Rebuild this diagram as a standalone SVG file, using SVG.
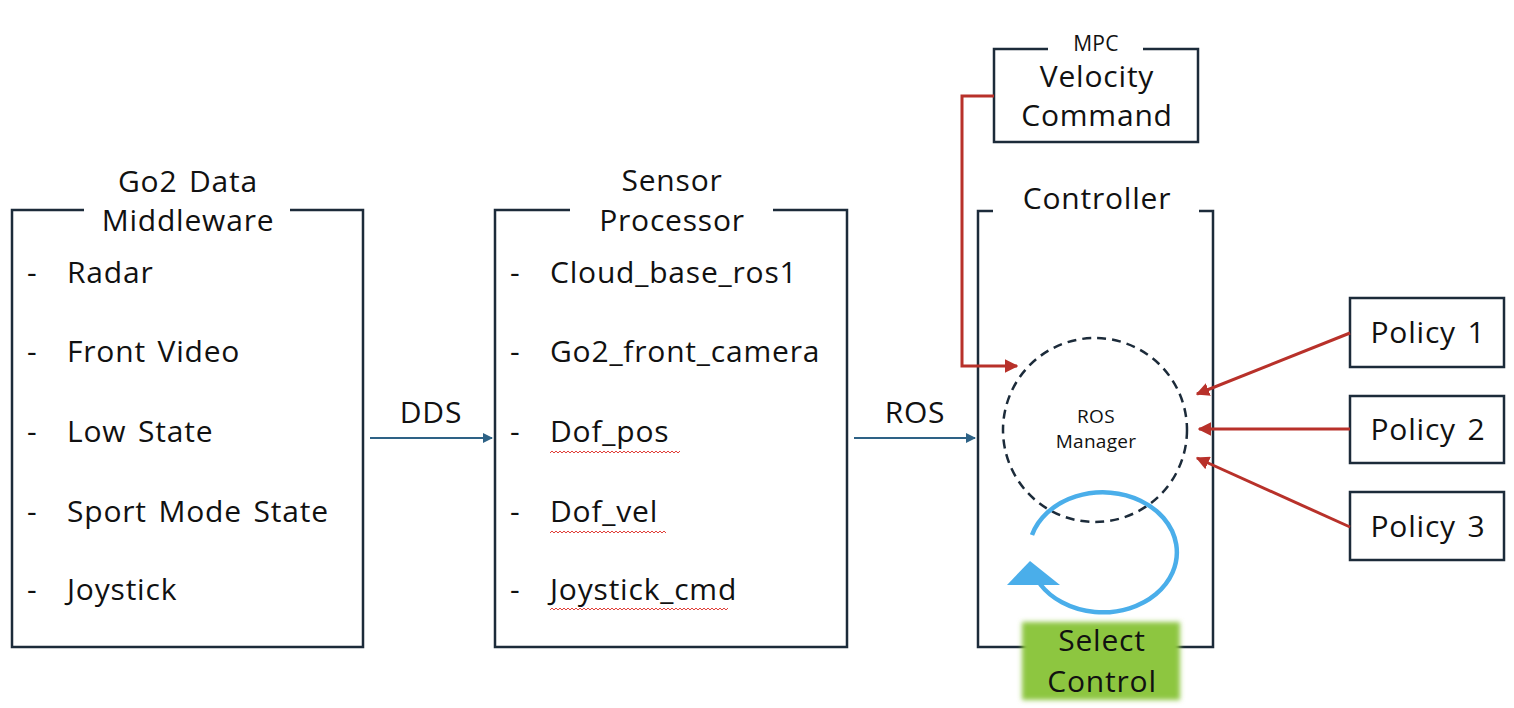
<svg xmlns="http://www.w3.org/2000/svg" width="1514" height="708" viewBox="0 0 1514 708">
<defs>
<style>
text{font-family:"Open Sans","Noto Sans","DejaVu Sans",sans-serif;fill:#111;}
.t{font-size:30px;letter-spacing:0.8px;word-spacing:3px;}
.ti{font-size:30px;letter-spacing:0.8px;word-spacing:3px;text-anchor:middle;}
.sm{font-size:19px;letter-spacing:0.3px;text-anchor:middle;}
.frame{fill:none;stroke:#1c2b3a;stroke-width:2.5;}
.box{fill:#fff;stroke:#1c2b3a;stroke-width:2.5;}
.blue{stroke:#2e6286;stroke-width:2;fill:none;}
.red{stroke:#b8312a;stroke-width:3;fill:none;}
.wavy{stroke:#e0403a;stroke-width:1;fill:none;}
</style>
<marker id="ab" viewBox="0 0 10 10" refX="9" refY="5" markerWidth="5" markerHeight="5" orient="auto"><path d="M0,0 L10,5 L0,10 Z" fill="#2e6286"/></marker>
<marker id="ar" viewBox="0 0 10 10" refX="9" refY="5" markerWidth="4.5" markerHeight="4.5" orient="auto"><path d="M0,0 L10,5 L0,10 Z" fill="#b8312a"/></marker>
<filter id="blur" x="-10%" y="-10%" width="120%" height="120%"><feGaussianBlur stdDeviation="2.5"/></filter>
</defs>

<g id="go2-middleware">
<path class="frame" d="M84,210 H12 V647 H363 V210 H290"/>
<text class="ti" x="188" y="192">Go2 Data</text>
<text class="ti" x="188" y="231">Middleware</text>
<text class="t" x="27" y="283">-</text><text class="t" x="67" y="283">Radar</text>
<text class="t" x="27" y="362">-</text><text class="t" x="67" y="362">Front Video</text>
<text class="t" x="27" y="442">-</text><text class="t" x="67" y="442">Low State</text>
<text class="t" x="27" y="522">-</text><text class="t" x="67" y="522">Sport Mode State</text>
<text class="t" x="27" y="600">-</text><text class="t" x="67" y="600">Joystick</text>
</g>

<g id="sensor-processor">
<path class="frame" d="M570,210 H495 V647 H847 V210 H773"/>
<text class="ti" x="672" y="191">Sensor</text>
<text class="ti" x="672" y="231">Processor</text>
<text class="t" x="510" y="283">-</text><text class="t" x="550" y="283">Cloud_base_ros1</text>
<text class="t" x="510" y="362">-</text><text class="t" x="550" y="362">Go2_front_camera</text>
<text class="t" x="510" y="442">-</text><text class="t" x="550" y="442">Dof_pos</text>
<text class="t" x="510" y="522">-</text><text class="t" x="550" y="522">Dof_vel</text>
<text class="t" x="510" y="600">-</text><text class="t" x="550" y="600">Joystick_cmd</text>
<path class="wavy" d="M550,453 l2,-2 l2,2 l2,-2 l2,2 l2,-2 l2,2 l2,-2 l2,2 l2,-2 l2,2 l2,-2 l2,2 l2,-2 l2,2 l2,-2 l2,2 l2,-2 l2,2 l2,-2 l2,2 l2,-2 l2,2 l2,-2 l2,2 l2,-2 l2,2 l2,-2 l2,2 l2,-2 l2,2 l2,-2 l2,2 l2,-2 l2,2 l2,-2 l2,2 l2,-2 l2,2 l2,-2 l2,2 l2,-2 l2,2 l2,-2 l2,2 l2,-2 l2,2 l2,-2 l2,2 l2,-2 l2,2 l2,-2 l2,2 l2,-2 l2,2 l2,-2 l2,2 l2,-2 l2,2 l2,-2 l2,2 l2,-2 l2,2 l2,-2 l2,2 l2,-2"/>
<path class="wavy" d="M550,533 l2,-2 l2,2 l2,-2 l2,2 l2,-2 l2,2 l2,-2 l2,2 l2,-2 l2,2 l2,-2 l2,2 l2,-2 l2,2 l2,-2 l2,2 l2,-2 l2,2 l2,-2 l2,2 l2,-2 l2,2 l2,-2 l2,2 l2,-2 l2,2 l2,-2 l2,2 l2,-2 l2,2 l2,-2 l2,2 l2,-2 l2,2 l2,-2 l2,2 l2,-2 l2,2 l2,-2 l2,2 l2,-2 l2,2 l2,-2 l2,2 l2,-2 l2,2 l2,-2 l2,2 l2,-2 l2,2 l2,-2 l2,2 l2,-2 l2,2 l2,-2 l2,2 l2,-2 l2,2"/>
<path class="wavy" d="M550,610 l2,-2 l2,2 l2,-2 l2,2 l2,-2 l2,2 l2,-2 l2,2 l2,-2 l2,2 l2,-2 l2,2 l2,-2 l2,2 l2,-2 l2,2 l2,-2 l2,2 l2,-2 l2,2 l2,-2 l2,2 l2,-2 l2,2 l2,-2 l2,2 l2,-2 l2,2 l2,-2 l2,2 l2,-2 l2,2 l2,-2 l2,2 l2,-2 l2,2 l2,-2 l2,2 l2,-2 l2,2 l2,-2 l2,2 l2,-2 l2,2 l2,-2 l2,2 l2,-2 l2,2 l2,-2 l2,2 l2,-2 l2,2 l2,-2 l2,2 l2,-2 l2,2 l2,-2 l2,2 l2,-2 l2,2 l2,-2 l2,2 l2,-2 l2,2 l2,-2 l2,2 l2,-2 l2,2 l2,-2 l2,2 l2,-2 l2,2 l2,-2 l2,2 l2,-2 l2,2 l2,-2 l2,2 l2,-2 l2,2 l2,-2 l2,2 l2,-2 l2,2 l2,-2 l2,2 l2,-2 l2,2 l2,-2"/>
</g>

<g id="controller">
<path class="frame" d="M993,211 H978 V647 H1213 V211 H1199"/>
<text class="ti" x="1097" y="209">Controller</text>
</g>

<g id="mpc">
<path class="frame" d="M1048,49 H994 V142 H1198 V49 H1143"/>
<text class="sm" x="1096" y="51" style="font-size:21px">MPC</text>
<text class="ti" x="1097" y="87">Velocity</text>
<text class="ti" x="1097" y="126">Command</text>
</g>

<g id="ros-manager">
<circle cx="1095" cy="430" r="92" fill="none" stroke="#1c2b3a" stroke-width="2.5" stroke-dasharray="9,6"/>
<text class="sm" x="1096" y="423">ROS</text>
<text class="sm" x="1096" y="448">Manager</text>
</g>

<g id="policy-1">
<rect class="box" x="1350" y="298" width="154" height="69"/>
<text class="ti" x="1428" y="343">Policy 1</text>
</g>
<g id="policy-2">
<rect class="box" x="1350" y="396" width="154" height="67"/>
<text class="ti" x="1428" y="440">Policy 2</text>
</g>
<g id="policy-3">
<rect class="box" x="1350" y="492" width="154" height="68"/>
<text class="ti" x="1428" y="537">Policy 3</text>
</g>

<g id="select-control">
<rect x="1022" y="622" width="158" height="78" fill="#8dc63f" filter="url(#blur)"/>
<text class="ti" x="1102" y="651">Select</text>
<text class="ti" x="1102" y="692">Control</text>
</g>

<g id="connectors">
<line class="blue" x1="370" y1="438" x2="492" y2="438" marker-end="url(#ab)"/>
<text class="ti" x="431" y="423">DDS</text>
<line class="blue" x1="854" y1="438" x2="975" y2="438" marker-end="url(#ab)"/>
<text class="ti" x="915" y="423">ROS</text>
<path class="red" d="M994,96 H962 V366 H1017" marker-end="url(#ar)"/>
<line class="red" x1="1350" y1="333" x2="1197" y2="394" marker-end="url(#ar)"/>
<line class="red" x1="1350" y1="429" x2="1199" y2="429" marker-end="url(#ar)"/>
<line class="red" x1="1350" y1="527" x2="1197" y2="458" marker-end="url(#ar)"/>
<path d="M1032,535 A74,60 0 1 1 1040,584" fill="none" stroke="#4aaeea" stroke-width="4.5"/>
<path d="M1007,585 L1060,585 L1030,561 Z" fill="#4aaeea"/>
</g>
</svg>
